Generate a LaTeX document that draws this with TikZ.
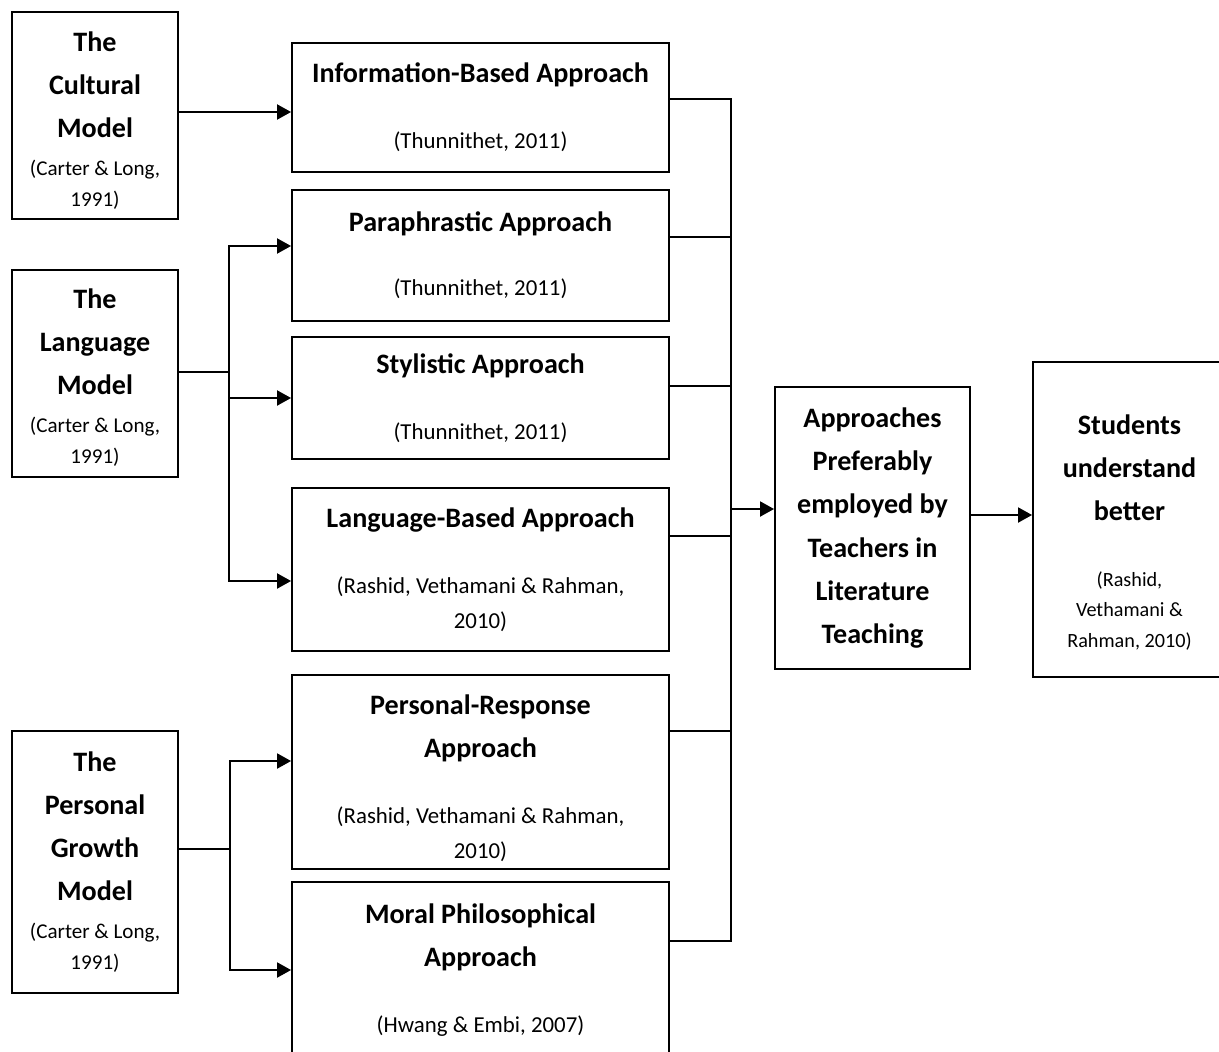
\documentclass[tikz,border=0pt]{standalone}
\usepackage{fontspec}
\setmainfont{Carlito}
\usetikzlibrary{arrows.meta}

\newcommand{\reftxt}{\fontsize{13pt}{19pt}\selectfont\mdseries}
\newcommand{\refsmall}{\fontsize{12pt}{17pt}\selectfont\mdseries}
\newcommand{\refstud}{\fontsize{11.5pt}{17pt}\selectfont\mdseries}

\begin{document}
\begin{tikzpicture}[x=0.02cm, y=-0.02cm, line width=1.1pt,
  box/.style={draw, align=center, inner sep=2pt, font=\fontsize{16pt}{24.5pt}\selectfont\bfseries},
  arr/.style={-{Triangle[length=0.28cm, width=0.3cm]}}]

\useasboundingbox (0,0) rectangle (1219,1051);

\node[box, minimum width=3.32cm, minimum height=4.14cm] (cult) at (95, 115.5) {\rule{0pt}{17pt}The\\Cultural\\Model\\[-3pt]{\refsmall (Carter \& Long,}\\[-7pt]{\refsmall 1991)}};
\node[box, minimum width=3.32cm, minimum height=4.14cm] (lang) at (95, 373.5) {\rule{0pt}{16pt}The\\Language\\Model\\[-3pt]{\refsmall (Carter \& Long,}\\[-7pt]{\refsmall 1991)}};
\node[box, minimum width=3.32cm, minimum height=5.24cm] (pers) at (95, 862) {The\\Personal\\Growth\\Model\\[-3pt]{\refsmall (Carter \& Long,}\\[-7pt]{\refsmall 1991)}};

\node[box, minimum width=7.54cm, minimum height=2.58cm] (info) at (480.5, 107.5) {Information-Based Approach\\[13pt]{\reftxt (Thunnithet, 2011)}};
\node[box, minimum width=7.54cm, minimum height=2.62cm] (para) at (480.5, 255.5) {Paraphrastic Approach\\[12pt]{\reftxt (Thunnithet, 2011)}};
\node[box, minimum width=7.54cm, minimum height=2.44cm] (styl) at (480.5, 398) {Stylistic Approach\\[13pt]{\reftxt (Thunnithet, 2011)}};
\node[box, minimum width=7.54cm, minimum height=3.26cm] (lbased) at (480.5, 569.5) {Language-Based Approach\\[13pt]{\reftxt (Rashid, Vethamani \& Rahman,}\\[-4.5pt]{\reftxt 2010)}};
\node[box, minimum width=7.54cm, minimum height=3.88cm] (resp) at (480.5, 772) {\rule{0pt}{18pt}Personal-Response\\Approach\\[13pt]{\reftxt (Rashid, Vethamani \& Rahman,}\\[-4.5pt]{\reftxt 2010)}};
\node[box, minimum width=7.54cm, minimum height=3.52cm] (moral) at (480.5, 970) {Moral Philosophical\\Approach\\[13pt]{\reftxt (Hwang \& Embi, 2007)}};

\node[box, minimum width=3.9cm, minimum height=5.64cm] (appr) at (872.5, 528) {Approaches\\Preferably\\employed by\\Teachers in\\Literature\\Teaching};
\node[box, minimum width=3.86cm, minimum height=6.3cm] (stud) at (1129.5, 519.5) {\rule{0pt}{26pt}Students\\understand\\better\\[13pt]{\refstud (Rashid,}\\[-7pt]{\refstud Vethamani \&}\\[-7pt]{\refstud Rahman, 2010)}};

\coordinate (cout) at ([yshift=0.07cm]cult.east);
\draw[arr] (cout) -- (cout -| info.west);

\coordinate (pin) at ([yshift=0.19cm]para.west);
\coordinate (lin) at ([yshift=-0.23cm]lbased.west);
\draw[arr] ([yshift=0.03cm]lang.east) -- ++(50,0) coordinate (lfork) |- (pin);
\draw[arr] (lfork) |- (lin);
\draw[arr] (lfork |- styl.west) -- (styl.west);

\coordinate (rin) at ([yshift=0.22cm]resp.west);
\draw[arr] ([yshift=0.26cm]pers.east) -- ++(51,0) coordinate (pfork) |- (rin);
\draw[arr] (pfork) |- (moral.west);

\draw ([yshift=0.17cm]info.east) -- ++(61,0) coordinate (btop) |- ([yshift=0.58cm]moral.east);
\draw ([yshift=0.37cm]para.east) -- ++(61,0);
\draw ([yshift=0.24cm]styl.east) -- ++(61,0);
\draw ([yshift=0.67cm]lbased.east) -- ++(61,0);
\draw ([yshift=0.82cm]resp.east) -- ++(61,0);

\coordinate (ain) at ([yshift=0.38cm]appr.west);
\draw[arr] (btop |- ain) -- (ain);
\coordinate (aout) at ([yshift=0.26cm]appr.east);
\draw[arr] (aout) -- (aout -| stud.west);

\end{tikzpicture}
\end{document}
